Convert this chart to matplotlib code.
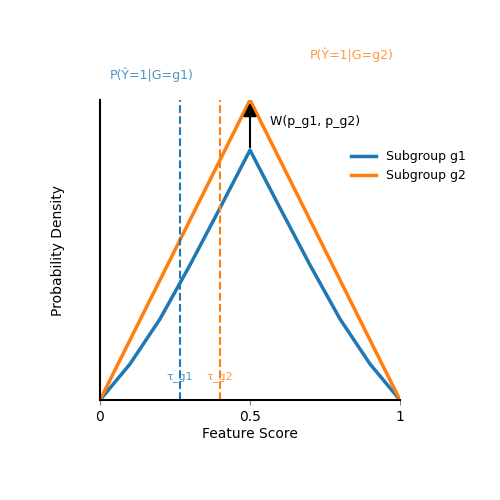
import matplotlib
matplotlib.use("Agg")
import matplotlib.pyplot as plt

x = [0, 0.1, 0.2, 0.25, 0.3, 0.4, 0.5, 0.6, 0.7, 0.75, 0.8, 0.9, 1.0]
g1 = [0, 0.12, 0.27, 0.36, 0.45, 0.64, 0.833, 0.64, 0.45, 0.36, 0.27, 0.12, 0]
g2 = [0, 0.2, 0.4, 0.5, 0.6, 0.8, 1.0, 0.8, 0.6, 0.5, 0.4, 0.2, 0]
tau_g1 = 0.267
tau_g2 = 0.4
blue = "#1f77b4"
orange = "#ff7f0e"

fig = plt.figure(figsize=(5, 5), dpi=100)
ax = fig.add_axes([0.2, 0.2, 0.6, 0.6])
ax.plot(x, g1, color=blue, lw=2.5, label="Subgroup g1")
ax.plot(x, g2, color=orange, lw=2.5, label="Subgroup g2")
ax.axvline(tau_g1, color=blue, ls="--", lw=1.5)
ax.axvline(tau_g2, color=orange, ls="--", lw=1.5)
ax.text(tau_g1, 0.06, "τ_g1", color=blue, alpha=0.8, ha="center", va="bottom", fontsize=8)
ax.text(tau_g2, 0.06, "τ_g2", color=orange, alpha=0.8, ha="center", va="bottom", fontsize=8)
ax.annotate("", xy=(0.5, 1.0), xytext=(0.5, 0.833),
            arrowprops=dict(arrowstyle="-|>", color="black", lw=1.5, mutation_scale=20))
ax.text(0.565, 0.93, "W(p_g1, p_g2)", fontsize=9, va="center")
ax.text(0.033, 1.083, "P(Ŷ=1|G=g1)", color=blue, alpha=0.8, fontsize=9, va="center")
ax.text(0.7, 1.15, "P(Ŷ=1|G=g2)", color=orange, alpha=0.8, fontsize=9, va="center")
ax.set_xlim(0, 1)
ax.set_ylim(0, 1)
ax.set_xticks([0, 0.5, 1])
ax.set_xticklabels(["0", "0.5", "1"])
ax.set_yticks([])
ax.tick_params(axis="x", color="grey")
for s in ["top", "right"]:
    ax.spines[s].set_visible(False)
ax.spines["left"].set_linewidth(1.5)
ax.spines["bottom"].set_linewidth(1.5)
ax.set_xlabel("Feature Score", fontsize=10, labelpad=2)
ax.set_ylabel("Probability Density", fontsize=10, labelpad=25)
ax.legend(loc="upper left", bbox_to_anchor=(0.8, 0.87), frameon=False, fontsize=9)
fig.savefig("out.png", dpi=100)
